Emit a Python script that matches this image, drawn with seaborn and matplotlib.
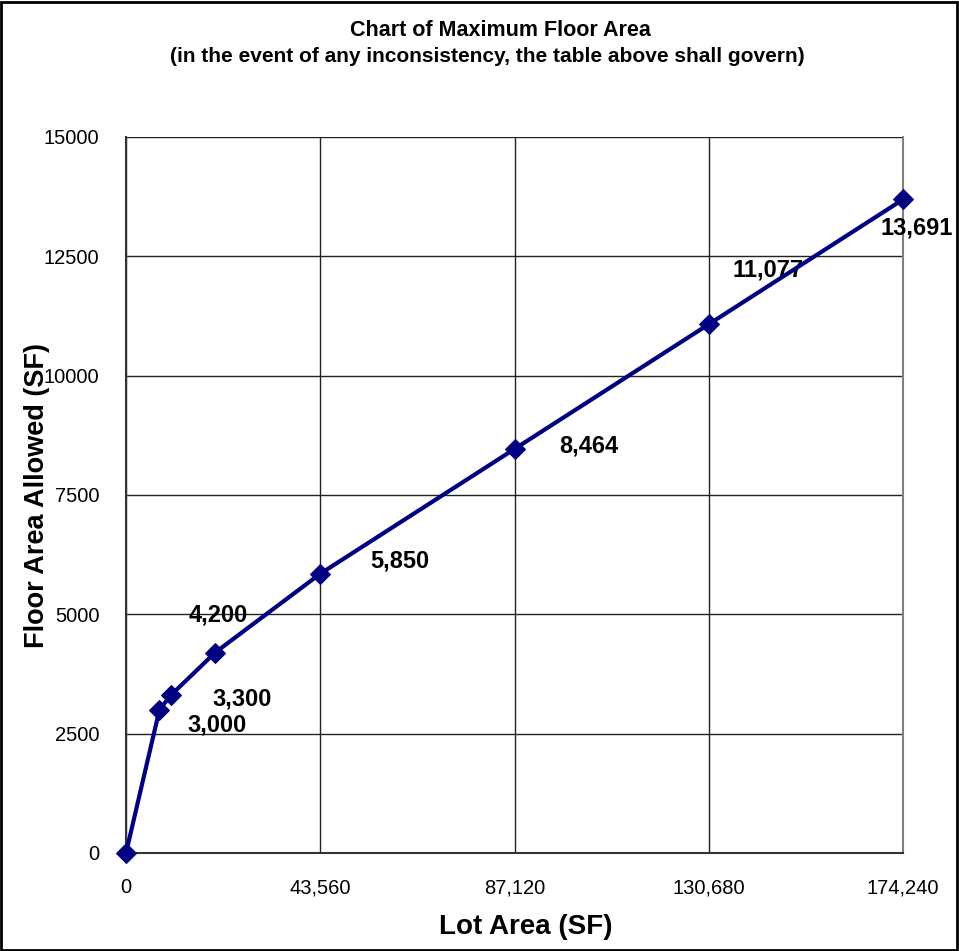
import numpy as np
import pandas as pd
import matplotlib.pyplot as plt
import seaborn as sns

# data
lot_area = [0, 7500, 10000, 20000, 43560, 87120, 130680, 174240]
floor_area = [0, 3000, 3300, 4200, 5850, 8464, 11077, 13691]
x_ticks = [0, 43560, 87120, 130680, 174240]
x_tick_labels = ['0', '43,560', '87,120', '130,680', '174,240']
y_ticks = [0, 2500, 5000, 7500, 10000, 12500, 15000]

# label offsets (pixels) for each point, like excel puts them
label_off = [None, (58, -15), (72, -4), (3, 38), (80, 13), (74, 3), (59, 54), (14, -29)]

df = pd.DataFrame({'lot': lot_area, 'floor': floor_area})

sns.set_style('white')
plt.rcParams['font.family'] = ['Liberation Sans', 'DejaVu Sans']
plt.rcParams['text.color'] = 'black'
plt.rcParams['xtick.color'] = 'black'
plt.rcParams['ytick.color'] = 'black'

fig = plt.figure(figsize=(9.59, 9.51), dpi=100)
ax = fig.add_axes([126/959, 1-853/951, (903-126)/959, (853-137)/951])

sns.lineplot(x='lot', y='floor', data=df, ax=ax, color='#000080', linewidth=3,
             marker='D', markersize=10.5, markeredgecolor='#000080', zorder=5)
for ln in ax.lines:
    ln.set_clip_on(False)

for xv, yv, off in zip(lot_area, floor_area, label_off):
    if off is None:
        continue
    ax.annotate(f'{yv:,}', (xv, yv), xytext=off, textcoords='offset pixels',
                ha='center', va='center', fontsize=17, fontweight='bold', zorder=4)

ax.set_xlim(0, 174240)
ax.set_ylim(0, 15000)
ax.set_xticks(x_ticks)
ax.set_xticklabels(x_tick_labels)
ax.set_yticks(y_ticks)
ax.tick_params(axis='both', labelsize=14.5, direction='out', length=6, width=1, color='black')
ax.tick_params(axis='x', pad=12)
ax.tick_params(axis='y', pad=13)
ax.grid(True, color='#222222', linewidth=1)
ax.set_axisbelow(True)

for s in ['left', 'bottom']:
    ax.spines[s].set_color('#333333')
    ax.spines[s].set_linewidth(1.5)
ax.spines['top'].set_visible(False)
ax.spines['right'].set_color('gray')
ax.spines['right'].set_linewidth(1.5)

ax.set_xlabel('')
ax.set_ylabel('')
fig.text(526/959, 1-927/951, 'Lot Area (SF)', ha='center', va='center', fontsize=20, fontweight='bold')
fig.text(37/959, 1-495/951, 'Floor Area Allowed (SF)', ha='center', va='center', rotation=90,
         fontsize=19.5, fontweight='bold')
fig.text(500/959, 1-30/951, 'Chart of Maximum Floor Area', ha='center', va='center',
         fontsize=15.5, fontweight='bold')
fig.text(487/959, 1-57/951, '(in the event of any inconsistency, the table above shall govern)',
         ha='center', va='center', fontsize=15, fontweight='bold')

# border round whole picture
fig.patches.append(plt.Rectangle((0.001, 0.001), 0.997, 0.997, transform=fig.transFigure,
                                 fill=False, edgecolor='black', linewidth=2))

plt.savefig('out.png', dpi=100)
